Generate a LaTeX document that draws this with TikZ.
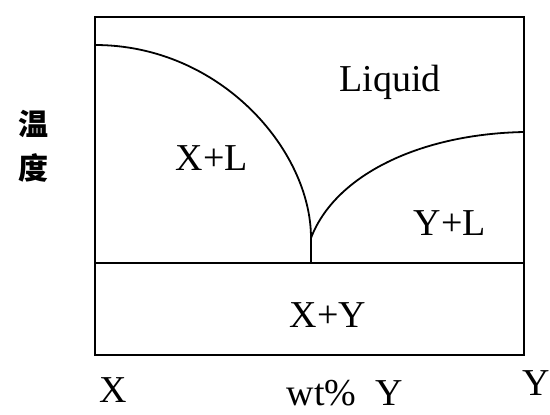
\documentclass[tikz,border=0pt]{standalone}
\usepackage{fontspec}
\setmainfont{Liberation Serif}
\newfontfamily\cjk{Noto Sans CJK SC}
\usepackage{tikz}
\usetikzlibrary{positioning}

\begin{document}
\begin{tikzpicture}[x=1pt, y=-1pt,
  phase/.style={line width=1.8pt},
  region/.style={font=\fontsize{38}{42}\selectfont, anchor=base, inner sep=0pt},
  axislbl/.style={font=\fontsize{38}{42}\selectfont, anchor=base, inner sep=0pt},
]
  \useasboundingbox (0,0) rectangle (550,415);
  % frame of the diagram
  \coordinate (tl) at (95,17);
  \coordinate (br) at (524,355);
  \draw[phase] (tl) rectangle (br);
  % eutectic line
  \coordinate (eL) at (95,263);
  \coordinate (eR) at (524,263);
  \draw[phase] (eL) -- (eR);
  % liquidus curves
  \coordinate (mX) at (95,45);
  \coordinate (mY) at (524,132);
  \coordinate (eu) at (311,238);
  \coordinate (eb) at (311,263);
  \draw[phase] (mX) .. controls (220,45) and (311,150) .. (eu);
  \draw[phase] (eu) .. controls (335,175) and (420,134) .. (mY);
  \draw[phase] (eu) -- (eb);
  % regions
  \node[region] (liq) at (390,91) {Liquid};
  \node[region] (xl) at (212,170) {X+L};
  \node[region] (yl) at (450,235) {Y+L};
  \node[region] (xy) at (328,327) {X+Y};
  % axes
  \node[axislbl] (xa) at (113,402) {X};
  \node[axislbl] (wt) at (345,405) {wt\%\ \ Y};
  \node[axislbl, anchor=base east] (ya) at (550,395) {Y};
  \node[font=\cjk\bfseries\fontsize{30}{44}\selectfont, align=center, inner sep=0pt] (temp) at (34,146) {温\\度};
\end{tikzpicture}
\end{document}
